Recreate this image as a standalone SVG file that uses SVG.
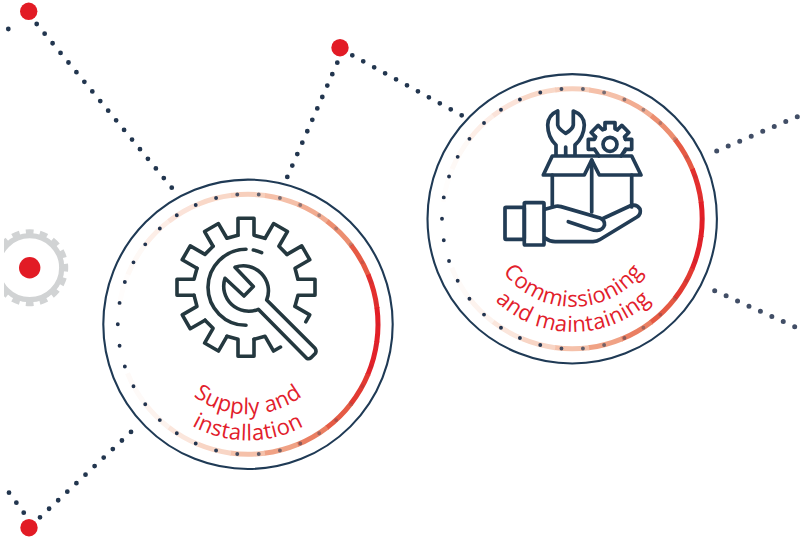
<svg xmlns="http://www.w3.org/2000/svg" width="806" height="541" viewBox="0 0 806 541">
<style>
.dots{fill:none;stroke:#22364f;stroke-width:4.8;stroke-linecap:round;stroke-dasharray:0 1}
.dotsb{fill:none;stroke:#414e66;stroke-width:5;stroke-linecap:round;stroke-dasharray:0 1}
.red{fill:#e21b25}
.ring{fill:none;stroke:#1f3a55;stroke-width:2.1}
.lbl{font-family:"Open Sans","Noto Sans",sans-serif;font-size:22px;letter-spacing:.35px;fill:#e2202b;text-anchor:middle}
.g1{fill:none;stroke:#24383f;stroke-width:3.6;stroke-linejoin:round;stroke-linecap:round}
.g2{fill:none;stroke:#223c55;stroke-width:3.7;stroke-linejoin:round;stroke-linecap:round}
.seg{fill:none;stroke-width:5;stroke-dasharray:15.4 344.6}
</style>
<defs>
<linearGradient id="dotfade" x1="0" y1="0" x2="1" y2="0">
<stop offset="0" stop-color="#22344f"/>
<stop offset="0.35" stop-color="#22344f"/>
<stop offset="0.55" stop-color="#22344f" stop-opacity=".7"/>
<stop offset="0.8" stop-color="#22344f" stop-opacity=".32"/>
<stop offset="1" stop-color="#22344f" stop-opacity=".05"/>
</linearGradient>
<clipPath id="leftcut"><rect x="4" y="215" width="80" height="105"/></clipPath>
<g id="band">
<circle class="seg" r="130" pathLength="360" stroke="#fffdfc" transform="rotate(-172.5)"/>
<circle class="seg" r="130" pathLength="360" stroke="#fef9f6" transform="rotate(-157.5)"/>
<circle class="seg" r="130" pathLength="360" stroke="#fdeee7" transform="rotate(-142.5)"/>
<circle class="seg" r="130" pathLength="360" stroke="#fbe3d9" transform="rotate(-127.5)"/>
<circle class="seg" r="130" pathLength="360" stroke="#f9d8c8" transform="rotate(-112.5)"/>
<circle class="seg" r="130" pathLength="360" stroke="#f7cfbc" transform="rotate(-97.5)"/>
<circle class="seg" r="130" pathLength="360" stroke="#f5c0a9" transform="rotate(-82.5)"/>
<circle class="seg" r="130" pathLength="360" stroke="#f2ac91" transform="rotate(-67.5)"/>
<circle class="seg" r="130" pathLength="360" stroke="#ec8e70" transform="rotate(-52.5)"/>
<circle class="seg" r="130" pathLength="360" stroke="#e65a44" transform="rotate(-37.5)"/>
<circle class="seg" r="130" pathLength="360" stroke="#e32f2e" transform="rotate(-22.5)"/>
<circle class="seg" r="130" pathLength="360" stroke="#e21f27" transform="rotate(-7.5)"/>
<circle class="seg" r="130" pathLength="360" stroke="#e2222a" transform="rotate(7.5)"/>
<circle class="seg" r="130" pathLength="360" stroke="#e23a32" transform="rotate(22.5)"/>
<circle class="seg" r="130" pathLength="360" stroke="#e55a44" transform="rotate(37.5)"/>
<circle class="seg" r="130" pathLength="360" stroke="#ea7f62" transform="rotate(52.5)"/>
<circle class="seg" r="130" pathLength="360" stroke="#f0a285" transform="rotate(67.5)"/>
<circle class="seg" r="130" pathLength="360" stroke="#f5c1aa" transform="rotate(82.5)"/>
<circle class="seg" r="130" pathLength="360" stroke="#f8d5c5" transform="rotate(97.5)"/>
<circle class="seg" r="130" pathLength="360" stroke="#fbe6dc" transform="rotate(112.5)"/>
<circle class="seg" r="130" pathLength="360" stroke="#fdf3ee" transform="rotate(127.5)"/>
<circle class="seg" r="130" pathLength="360" stroke="#fefaf8" transform="rotate(142.5)"/>
<circle r="130.2" fill="none" stroke="url(#dotfade)" stroke-width="3.9" stroke-linecap="round" stroke-dasharray="0 1" pathLength="38"/>
<circle class="ring" r="144.7"/>
</g>
<path id="t1" d="M-8-52V-69H8V-52L19-49"/>
<path id="t2" d="M-5-15.5V-21.7H5V-15.5L7.4-14.5"/>
<path id="p1" d="M170,369.3A90,90 0 0 0 326,369.3"/>
<path id="p2" d="M147.5,382.3A116,116 0 0 0 348.5,382.3"/>
<path id="p3" d="M497,262.8A88,88 0 0 0 649.4,262.8"/>
<path id="p4" d="M475.3,275.3A113,113 0 0 0 671.1,275.3"/>
</defs>

<g id="connectors">
<line class="dots" x1="8.3" y1="29" x2="18.3" y2="21.7" pathLength="1"/>
<line class="dots" x1="36.7" y1="24" x2="171.9" y2="187.9" pathLength="17.02"/>
<line class="dots" x1="9" y1="492.7" x2="23.8" y2="512.8" pathLength="2.01"/>
<line class="dots" x1="40" y1="517.3" x2="131.2" y2="431.8" pathLength="10.02"/>
<line class="dots" x1="337.3" y1="62.7" x2="287.2" y2="177.2" pathLength="10.02"/>
<line class="dots" x1="352.3" y1="55.3" x2="461.9" y2="115.4" pathLength="10.02"/>
<line class="dotsb" x1="716.7" y1="151" x2="797.4" y2="116.6" pathLength="7.01"/>
<line class="dotsb" x1="714.7" y1="290.7" x2="794.8" y2="326.8" pathLength="7.01"/>
</g>

<g id="dot-top"><circle class="red" cx="28.7" cy="11.3" r="8.7"/></g>
<g id="dot-mid"><circle class="red" cx="340" cy="47.7" r="8.7"/></g>
<g id="dot-bottom"><circle class="red" cx="29" cy="527.7" r="8.7"/></g>

<g id="node-left-gear">
<g clip-path="url(#leftcut)">
<circle cx="29.7" cy="267.7" r="32" fill="none" stroke="#d1d3d4" stroke-width="5.2"/>
<circle cx="29.7" cy="267.7" r="36" fill="none" stroke="#d1d3d4" stroke-width="5" pathLength="16" stroke-dasharray=".55 .45" stroke-dashoffset=".275"/>
</g>
<circle class="red" cx="29.7" cy="267.7" r="10.7"/>
</g>

<g id="node-supply">
<use href="#band" transform="translate(248,324.3)"/>
<g class="g1" transform="translate(246,287.3)">
<use href="#t1"/>
<use href="#t1" transform="rotate(30)"/>
<use href="#t1" transform="rotate(60)"/>
<use href="#t1" transform="rotate(90)"/>
<path d="M-8-52V-69H0" transform="rotate(120)"/>
<path d="M0-69H8V-52L19-49" transform="rotate(150)"/>
<use href="#t1" transform="rotate(180)"/>
<use href="#t1" transform="rotate(210)"/>
<use href="#t1" transform="rotate(240)"/>
<use href="#t1" transform="rotate(270)"/>
<use href="#t1" transform="rotate(300)"/>
<use href="#t1" transform="rotate(330)"/>
<path d="M0-38A38,38 0 0 0 0,38"/>
<path d="M7.3-37.3A38,38 0 0 1 15.6-34.6"/>
<path d="M-21-9L-2,8.7L7.3-.7L-11-20A25,25 0 0 1 20.7,12.7L69,61Q71,64 69,66.5L65,70.5Q63,72 60.7,71L12.3,22A25,25 0 0 1-21-9Z"/>
</g>
<text class="lbl"><textPath href="#p1" startOffset="50%">Supply and</textPath></text>
<text class="lbl"><textPath href="#p2" startOffset="50%">installation</textPath></text>
</g>

<g id="node-commissioning">
<use href="#band" transform="translate(572.2,218.8)"/>
<g class="g2">
<path d="M543.3,175L552.3,156H631.7L641,175H599.3L591.7,160L584.3,175Z"/>
<path d="M552.3,175V206.5M631.7,175V207M591.7,160V212"/>
<rect x="505" y="207.3" width="19.3" height="32" rx="1"/>
<rect x="524.3" y="202.7" width="19.7" height="42.3" rx="1"/>
<path d="M545,209.3L556,206.3Q558,205.8 561,206.6L600,218Q605,220 604.5,225Q603,230 597,230.5Q594,230.5 590,229L568.3,221.7"/>
<path d="M603,218.5L631,205.5Q637,204 640,209Q641.5,214 637,217L600,239.5Q597,241.5 593,241.7H556Q550,242 545,238"/>
<path d="M556,155V145Q547.7,137 547.7,125Q548,115 557.7,111V125Q558.5,129 565.7,133.3Q573,129 573.3,125V111Q584,115 584.3,125Q584,137 575,145V155M565.7,147V155"/>
<g transform="translate(610,144.3)">
<use href="#t2"/>
<use href="#t2" transform="rotate(45)"/>
<use href="#t2" transform="rotate(90)"/>
<use href="#t2" transform="rotate(-45)"/>
<use href="#t2" transform="rotate(-90)"/>
<path d="M15.5,5L11,11.7M-15.5,5L-11,11.7"/>
<circle r="7"/>
</g>
</g>
<text class="lbl"><textPath href="#p3" startOffset="50%">Commissioning</textPath></text>
<text class="lbl"><textPath href="#p4" startOffset="50%">and maintaining</textPath></text>
</g>
</svg>
